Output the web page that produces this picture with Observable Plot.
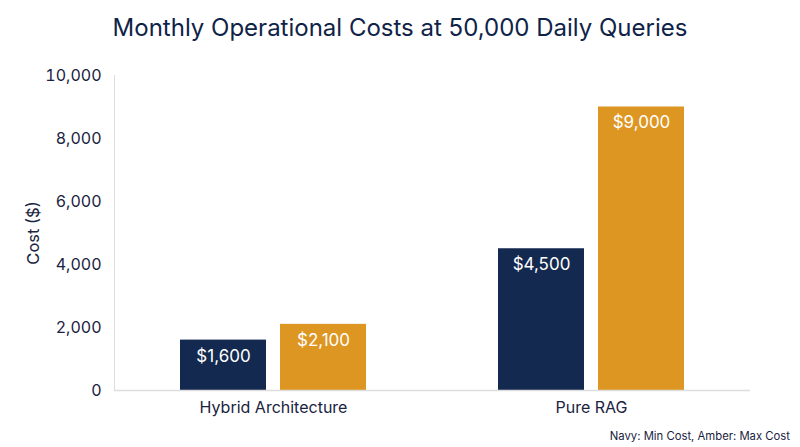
<!DOCTYPE html>
<html>
<head>
<meta charset="utf-8">
<script src="https://cdn.jsdelivr.net/npm/d3@7"></script>
<script src="https://cdn.jsdelivr.net/npm/@observablehq/plot@0.6"></script>
<style>
  html, body { margin: 0; padding: 0; background: #fff; }
  body { width: 800px; height: 447px; position: relative; font-family: Inter, "Noto Sans", sans-serif; overflow: hidden; }
  #title { height: 56px; line-height: 56px; text-align: center; font-size: 24px; color: #0f2348; }
  #caption { position: absolute; top: 429px; right: 10px; font-size: 11.3px; color: #1a2340; }
  #chart svg { display: block; }
</style>
</head>
<body>
<div id="title">Monthly Operational Costs at 50,000 Daily Queries</div>
<div id="chart"></div>
<div id="caption">Navy: Min Cost, Amber: Max Cost</div>
<script>
const groups = ["Hybrid Architecture", "Pure RAG"];
const seriesNames = ["Min Cost", "Max Cost"];
const minCost = [1600, 4500];
const maxCost = [2100, 9000];
const yTicks = [0, 2000, 4000, 6000, 8000, 10000];
const yLabel = "Cost ($)";
const colors = ["#13294f", "#de9622"];

const data = [];
groups.forEach((g, i) => {
  data.push({group: g, series: seriesNames[0], value: minCost[i]});
  data.push({group: g, series: seriesNames[1], value: maxCost[i]});
});

const fmt = d3.format(",");
const textColor = "#1a2340";

const chart = Plot.plot({
  width: 800,
  height: 374,
  marginTop: 19,
  marginBottom: 40,
  marginLeft: 113,
  marginRight: 50,
  style: {fontFamily: "Inter, 'Noto Sans', sans-serif", fontSize: "16px", color: textColor, background: "#fff"},
  fx: {domain: groups, padding: 0, label: null},
  x: {domain: seriesNames, paddingInner: 0.14, paddingOuter: 0.66, axis: null},
  y: {domain: [0, 10000], label: null},
  color: {domain: seriesNames, range: colors},
  marks: [
    Plot.frame({anchor: "left", facetAnchor: "left", stroke: "#dddddd"}),
    Plot.axisY({ticks: yTicks, tickFormat: fmt, tickSize: 0, tickPadding: 13, label: null, fill: textColor, fontSize: 16}),
    Plot.text([yLabel], {frameAnchor: "left", textAnchor: "middle", dx: -81, rotate: -90, fontSize: 16.5, fill: textColor, facetAnchor: "left"}),
    Plot.axisFx({anchor: "bottom", tickSize: 0, tickPadding: 11, label: null, fill: textColor, fontSize: 16}),
    Plot.barY(data, {fx: "group", x: "series", y: "value", fill: "series"}),
    Plot.ruleY([0], {stroke: "#dddddd", strokeWidth: 1.5}),
    Plot.text(data, {fx: "group", x: "series", y: "value", text: d => "$" + fmt(d.value), fill: "white", dy: 16, fontSize: 17})
  ]
});
document.getElementById("chart").appendChild(chart);
</script>
</body>
</html>
